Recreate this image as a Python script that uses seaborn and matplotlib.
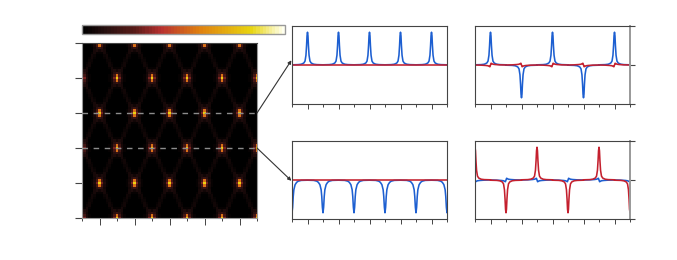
import numpy as np
import pandas as pd
import matplotlib
matplotlib.use("Agg")
import matplotlib.pyplot as plt
from matplotlib.colors import LinearSegmentedColormap
import seaborn as sns

# ── DATA ─────────────────────────────────────────────────────────────────────
# intensity around one bright spot, first half of a lattice cell (14 cols)
TILE_TOP = [
    [.84, .30, .08, .02, 0, 0, 0, 0, 0, 0, 0, .02, .08, .30],
    [.54, .20, .07, .02, 0, 0, 0, 0, 0, 0, 0, .02, .07, .20],
    [.17, .11, .06, .01, 0, 0, 0, 0, 0, 0, 0, .01, .06, .11],
    [.05, .08, .07, .01, 0, 0, 0, 0, 0, 0, 0, .01, .07, .08],
    [.02, .03, .07, .03, 0, 0, 0, 0, 0, 0, 0, .03, .07, .03],
    [0, .01, .04, .05, .01, 0, 0, 0, 0, 0, .01, .05, .04, .01],
    [0, 0, .02, .05, .02, 0, 0, 0, 0, 0, .02, .05, .02, 0],
    [0, 0, .01, .04, .04, .01, 0, 0, 0, .01, .04, .04, .01, 0],
]

# sharp peak seen in the panels, offset from its centre in period units
PEAK_DX = [-.5, -.3, -.2, -.12, -.08, -.05, -.03, -.015, 0, .015, .03, .05, .08, .12, .2, .3, .5]
PEAK_Y = [.005, .01, .02, .05, .1, .25, .5, .75, .84, .75, .5, .25, .1, .05, .02, .01, .005]

# wider dip of the lower left panel
DIP_DX = [-.5, -.3, -.2, -.15, -.1, -.06, -.04, -.02, 0, .02, .04, .06, .1, .15, .2, .3, .5]
DIP_Y = [-.005, -.01, -.03, -.06, -.12, -.25, -.42, -.7, -.84, -.7, -.42, -.25, -.12, -.06, -.03, -.01, -.005]

# small step of the weak component
STEP_DX = [-.5, -.3, -.15, -.08, -.04, -.02, 0, .02, .04, .08, .15, .3, .5]
STEP_Y = [0, -.004, -.012, -.02, -.035, -.045, 0, .045, .035, .02, .012, .004, 0]

MID_CENTERS = [.5, 1.5, 2.5, 3.5, 4.5]
EDGE_CENTERS = [0, 1, 2, 3, 4, 5]
MID_SIGNS = [1, -1, 1, -1, 1]
EDGE_SIGNS = [1, -1, 1, -1, 1, -1]
ALL_UP = [1, 1, 1, 1, 1]
ALL_ONE = [1, 1, 1, 1, 1, 1]
FLAT_X = [0, 5]
FLAT_Y = [0, 0]

BLUE = "#1d5fd1"
RED = "#c4202e"
FRAME = "#444444"
GREY = "#999999"

CMAP_STOPS = [(0, "#000000"), (.12, "#2a1010"), (.26, "#5a1c18"), (.39, "#b83030"),
              (.58, "#e08010"), (.84, "#e8d510"), (1, "#fffff0")]


def build_map():
    top = np.array(TILE_TOP, dtype=float)
    bottom = np.array([np.roll(top[r], 7) for r in range(6, 0, -1)])
    half = np.vstack([top, bottom])
    cell = np.vstack([np.roll(half, 7, axis=1), half])
    return np.tile(cell, (3, 6))[:71, :71]


def chain(centers, signs, dx, y):
    xs, ys = [], []
    for c, s in zip(centers, signs):
        xs.extend(c + d for d in dx)
        ys.extend(s * v for v in y)
    return xs, ys


def px_axes(fig, left, top, right, bottom):
    W, H = 677, 260
    return fig.add_axes([left / W, 1 - bottom / H, (right - left) / W, (bottom - top) / H])


def draw_panel(ax, blue, red, right_ticks=False):
    for (xs, ys), col in ((blue, BLUE), (red, RED)):
        sns.lineplot(x=xs, y=ys, ax=ax, color=col, lw=1.15, estimator=None, sort=False)
    ax.set_xlim(0, 5)
    ax.set_ylim(-1, 1)
    ax.set_xlabel("")
    ax.set_ylabel("")
    ax.set_xticks(MID_CENTERS)
    ax.set_xticks(EDGE_CENTERS, minor=True)
    ax.set_xticklabels([])
    ax.tick_params(axis="x", which="major", bottom=True, length=3.6, width=.7, color=FRAME)
    ax.tick_params(axis="x", which="minor", bottom=True, length=1.8, width=.7, color=FRAME)
    if right_ticks:
        ax.yaxis.tick_right()
        ax.set_yticks([-1, 0, 1])
        ax.set_yticklabels([])
        ax.tick_params(axis="y", right=True, length=3.6, width=.8, color=FRAME)
    else:
        ax.set_yticks([])
    for name, spine in ax.spines.items():
        spine.set_visible(True)
        spine.set_color(FRAME)
        spine.set_linewidth(.8)
    if right_ticks:
        ax.spines["right"].set_color(GREY)
        ax.spines["right"].set_linewidth(1.4)


sns.set_theme(style="white")
plt.rcParams["font.family"] = "DejaVu Sans"

fig = plt.figure(figsize=(6.77, 2.60), dpi=100, facecolor="white")
cmap = LinearSegmentedColormap.from_list("fire", CMAP_STOPS, N=64)

# ── MAP + COLOURBAR ──────────────────────────────────────────────────────────
ax_map = px_axes(fig, 82, 43, 257, 218)
cax = px_axes(fig, 82, 25, 285, 34)
sns.heatmap(pd.DataFrame(build_map()), ax=ax_map, cmap=cmap, vmin=0, vmax=1,
            cbar_ax=cax, cbar_kws={"orientation": "horizontal", "ticks": []},
            xticklabels=False, yticklabels=False)
ax_map.set_xlim(.5, 70.5)
ax_map.set_ylim(70.5, .5)
ax_map.set_xticks([.5, 14.5, 28.5, 42.5, 56.5, 70.5])
ax_map.set_xticks([7.5, 21.5, 35.5, 49.5, 63.5], minor=True)
ax_map.set_yticks([.5, 14.5, 28.5, 42.5, 56.5, 70.5])
ax_map.set_xticklabels([])
ax_map.set_yticklabels([])
ax_map.tick_params(axis="x", which="major", bottom=True, length=2.4, width=.7, color=FRAME)
ax_map.tick_params(axis="x", which="minor", bottom=True, length=5, width=.7, color=FRAME)
ax_map.tick_params(axis="y", left=True, length=5, width=.8, color=FRAME)
for name, spine in ax_map.spines.items():
    spine.set_visible(True)
    spine.set_color(FRAME if name == "top" else GREY)
    spine.set_linewidth(.8)

# the two cuts shown on the right
for row in (28.5, 42.5):
    ax_map.plot([.5, 70.5], [row, row], color="#8c8c8c", lw=1, ls=(0, (4, 4)))

outline = ax_map.collections[0].colorbar.outline
outline.set_edgecolor(GREY)
outline.set_linewidth(1)

# ── CUT PANELS ───────────────────────────────────────────────────────────────
ax1 = px_axes(fig, 292, 26, 447, 104)
ax2 = px_axes(fig, 292, 141, 447, 219)
ax3 = px_axes(fig, 475, 26, 630, 104)
ax4 = px_axes(fig, 475, 141, 630, 219)

draw_panel(ax1, chain(MID_CENTERS, ALL_UP, PEAK_DX, PEAK_Y), (FLAT_X, FLAT_Y))
draw_panel(ax2, chain(EDGE_CENTERS, ALL_ONE, DIP_DX, DIP_Y), (FLAT_X, FLAT_Y))
draw_panel(ax3, chain(MID_CENTERS, MID_SIGNS, PEAK_DX, PEAK_Y),
           chain(MID_CENTERS, MID_SIGNS, STEP_DX, STEP_Y), right_ticks=True)
draw_panel(ax4, chain(EDGE_CENTERS, [-s for s in EDGE_SIGNS], STEP_DX, STEP_Y),
           chain(EDGE_CENTERS, EDGE_SIGNS, PEAK_DX, PEAK_Y), right_ticks=True)

# arrows from the dashed cuts to their panels
for target, tip, start in ((ax1, (-.004, .56), .6), (ax2, (-.004, .49), .4)):
    target.annotate("", xy=tip, xycoords="axes fraction",
                    xytext=(1, start), textcoords=ax_map.transAxes,
                    annotation_clip=False,
                    arrowprops=dict(arrowstyle="-|>", color="#333333", lw=.8,
                                    mutation_scale=5, shrinkA=0, shrinkB=0))

fig.savefig("out.png", dpi=100, facecolor="white")
